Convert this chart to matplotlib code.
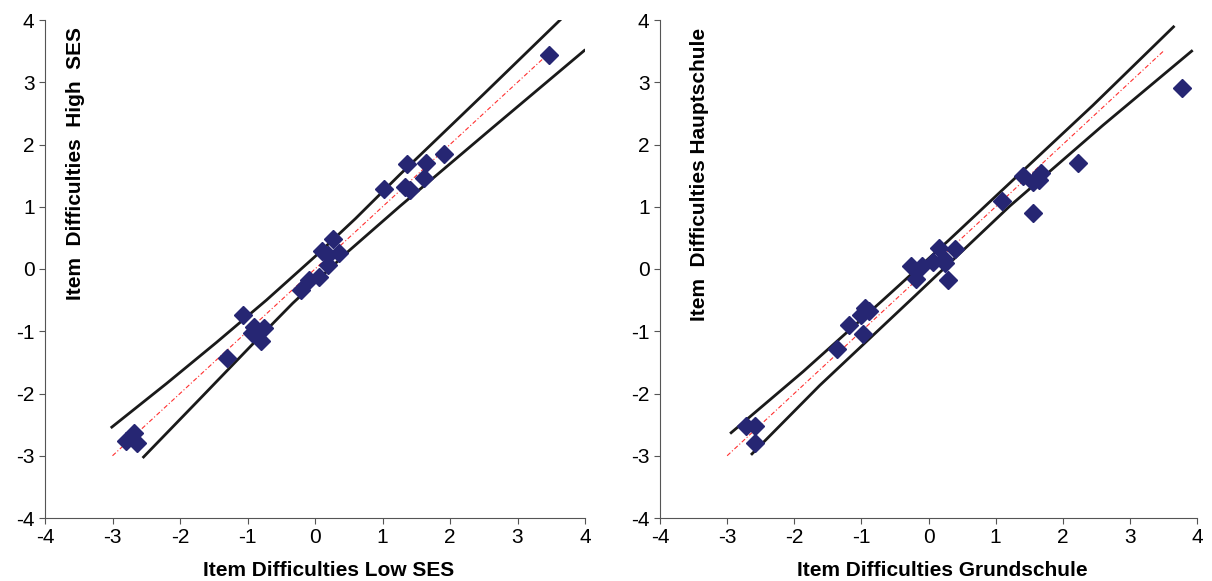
import matplotlib
matplotlib.use("Agg")
import matplotlib.pyplot as plt

plt.rcParams["font.family"] = ["Liberation Sans", "DejaVu Sans"]
plt.rcParams["axes.unicode_minus"] = False

# left panel: Low SES vs High SES
low_ses = [3.47, 1.91, 1.64, 1.36, 1.62, 1.33, 1.41, 1.02, 0.27, 0.11, 0.19, 0.36,
           0.19, 0.06, -0.09, -0.21, -1.07, -0.90, -0.76, -0.93, -0.80, -1.30,
           -2.68, -2.80, -2.64]
high_ses = [3.43, 1.84, 1.71, 1.69, 1.46, 1.31, 1.27, 1.28, 0.48, 0.29, 0.22, 0.26,
            0.06, -0.13, -0.18, -0.34, -0.74, -0.93, -0.95, -1.03, -1.16, -1.43,
            -2.63, -2.76, -2.80]
left_upper_x = [-3.01, -2.20, -1.46, -0.72, 0.0, 0.6, 1.26, 2.49, 3.65]
left_upper_y = [-2.54, -1.84, -1.18, -0.50, 0.20, 0.81, 1.52, 2.80, 4.02]
left_lower_x = [-2.54, -1.70, -0.90, -0.33, 0.5, 1.26, 2.62, 3.99]
left_lower_y = [-3.02, -2.08, -1.18, -0.55, 0.29, 1.01, 2.26, 3.51]

# right panel: Grundschule vs Hauptschule
grundschule = [-2.72, -2.58, -2.58, -1.37, -1.18, -0.98, -0.95, -1.00, -0.88, -0.26,
               -0.19, -0.10, 0.07, 0.15, 0.23, 0.24, 0.39, 0.29, 1.10, 1.41, 1.55,
               1.65, 1.68, 1.55, 2.22, 3.77]
hauptschule = [-2.53, -2.53, -2.80, -1.28, -0.90, -1.05, -0.62, -0.74, -0.67, 0.05,
               -0.16, 0.05, 0.11, 0.34, 0.16, 0.09, 0.32, -0.17, 1.10, 1.50, 1.40,
               1.43, 1.55, 0.90, 1.70, 2.91]
right_upper_x = [-2.94, -1.87, -0.68, 0.3, 1.21, 2.45, 3.65]
right_upper_y = [-2.63, -1.65, -0.50, 0.46, 1.38, 2.63, 3.89]
right_lower_x = [-2.63, -1.62, -0.2, 1.21, 2.6, 3.92]
right_lower_y = [-2.97, -1.87, -0.43, 1.01, 2.31, 3.50]

diag = [-3.0, 3.5]
ticks = [-4, -3, -2, -1, 0, 1, 2, 3, 4]

fig = plt.figure(figsize=(12.12, 5.81), dpi=100)
ax1 = fig.add_axes([45 / 1212, 1 - 518 / 581, 540 / 1212, 498 / 581])
ax2 = fig.add_axes([660 / 1212, 1 - 518 / 581, 537 / 1212, 498 / 581])

panels = [
    (ax1, low_ses, high_ses, left_upper_x, left_upper_y, left_lower_x, left_lower_y,
     "Item Difficulties Low SES", "Item  Difficulties  High  SES", 0.056),
    (ax2, grundschule, hauptschule, right_upper_x, right_upper_y, right_lower_x,
     right_lower_y, "Item Difficulties Grundschule", "Item  Difficulties Hauptschule", 0.074),
]

for ax, xs, ys, ux, uy, lx, ly, xlab, ylab, ypos in panels:
    ax.plot(diag, diag, color="#ff3030", lw=0.8, ls=(0, (4, 2, 1, 2)), zorder=1)
    ax.plot(ux, uy, color="#1a1a1a", lw=2.0, zorder=2)
    ax.plot(lx, ly, color="#1a1a1a", lw=2.0, zorder=2)
    ax.plot(xs, ys, ls="none", marker="D", ms=9, color="#262673",
            markeredgecolor="#262673", zorder=3)
    ax.set_xlim(-4, 4)
    ax.set_ylim(-4, 4)
    ax.set_xticks(ticks)
    ax.set_yticks(ticks)
    ax.tick_params(labelsize=15, direction="out", length=4, color="#555555")
    for side in ["top", "right"]:
        ax.spines[side].set_visible(False)
    for side in ["left", "bottom"]:
        ax.spines[side].set_color("#555555")
    ax.set_xlabel(xlab, fontsize=15, fontweight="bold")
    ax.xaxis.set_label_coords(0.525, -0.086)
    ax.text(ypos, 0.985, ylab, transform=ax.transAxes, rotation=90, ha="center",
            va="top", fontsize=15, fontweight="bold")

fig.savefig("out.png", dpi=100)
